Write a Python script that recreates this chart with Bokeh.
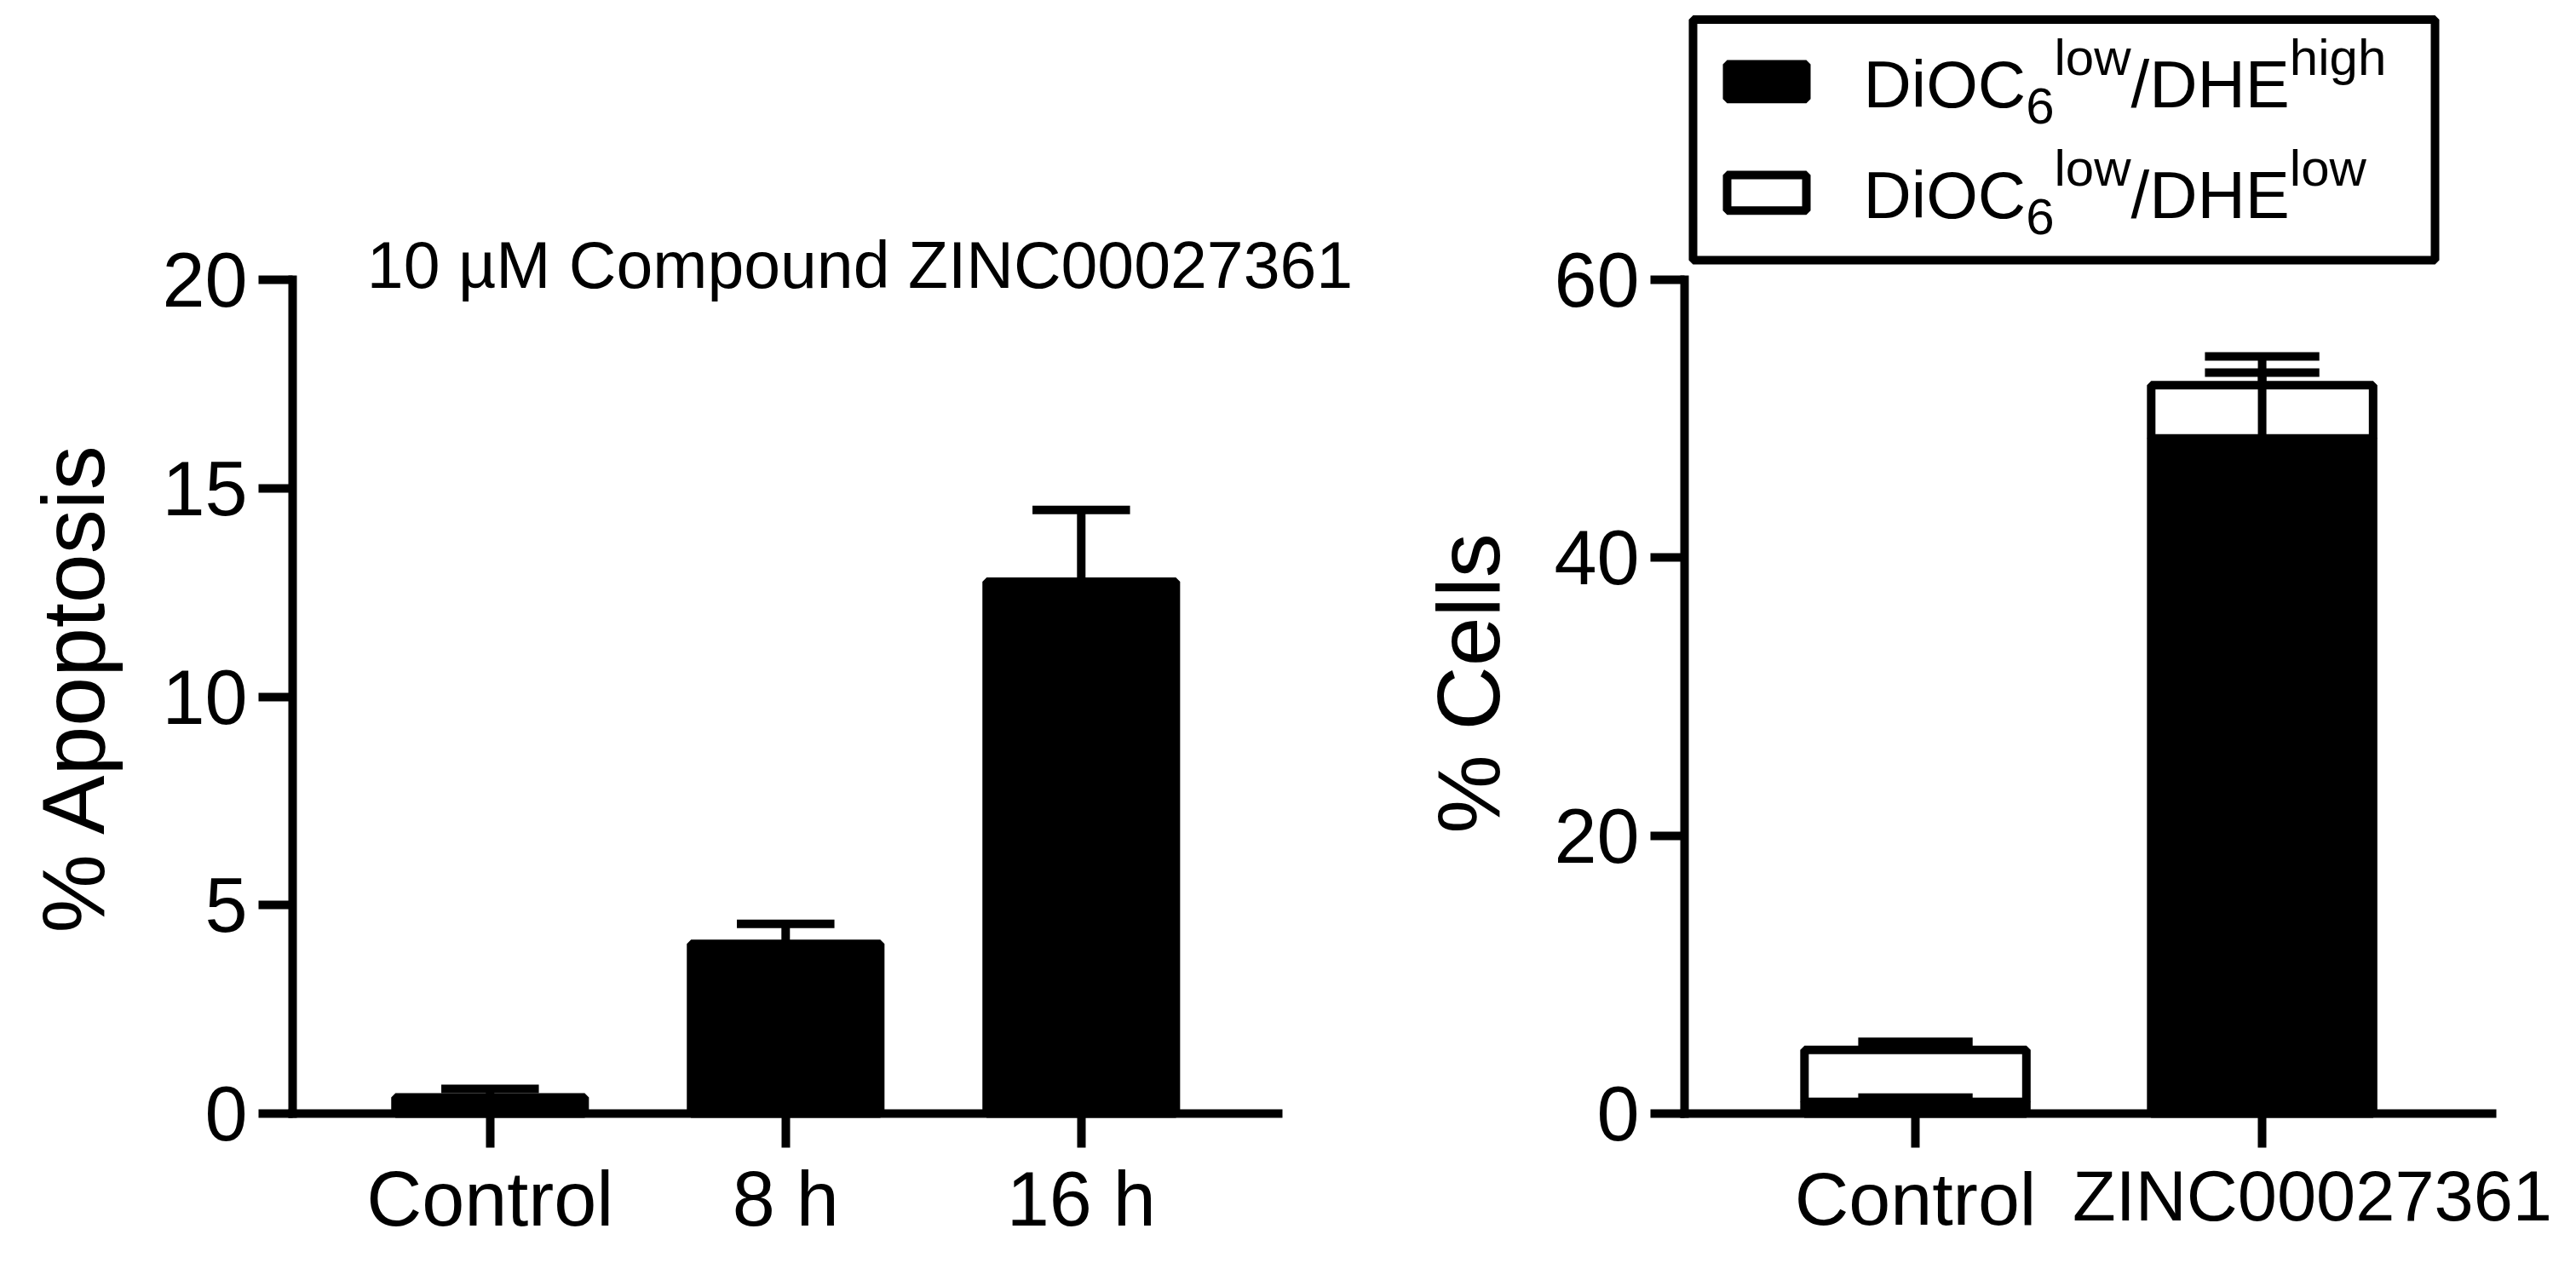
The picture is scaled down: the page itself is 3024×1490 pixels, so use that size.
from bokeh.plotting import figure
from bokeh.layouts import row
from bokeh.models import (Range1d, FixedTicker, Label, BoxAnnotation, ColumnDataSource,
                          LinearAxis)
from bokeh.embed import file_html
from bokeh.resources import INLINE

# ---------------- data ----------------
time_categories = ["Control", "8 h", "16 h"]
apoptosis_mean = [0.39, 4.07, 12.76]
apoptosis_sd = [0.20, 0.48, 1.72]
apoptosis_ticks = [0, 5, 10, 15, 20]

cell_categories = ["Control", "ZINC00027361"]
dhe_high_mean = [0.84, 48.58]   # DiOC6 low / DHE high (black)
dhe_high_sd = [0.31, 4.74]
dhe_low_mean = [3.74, 3.84]     # DiOC6 low / DHE low (white, stacked)
dhe_low_sd = [0.59, 2.06]
cells_ticks = [0, 20, 40, 60]

title_text = "10 \u00b5M Compound ZINC00027361"
y1_title = "% Apoptosis"
y2_title = "% Cells"

# ---------------- styling ----------------
FONT = "Liberation Sans"
LW = 10
BAR_W = 0.64
CAP_HALF = 0.165
OFF = 0                      # page offset of the canvas
H = 1482
SPLIT = 1620                 # reference x where the two canvases meet
W1 = SPLIT - OFF
W2 = 3016 - SPLIT
BASE_FIX = 0.35              # em shift so that labels sit on their intended baseline
ZINC_LABEL_SHIFT = 0.145     # the second right-hand category label sits right of its tick

Y0_PX = 1307                 # reference y of value 0 (both charts)
# left chart geometry (reference pixels)
L_AXIS_X, L_AXIS_END, L_TOP_PX = 343, 1500, 328
L_XSTART = -0.668
L_PX_PER_X = 347.0
L_PX_PER_Y = (Y0_PX - L_TOP_PX) / apoptosis_ticks[-1]
# right chart geometry
R_AXIS_X, R_AXIS_END, R_TOP_PX = 1977, 2925, 328
R_XSTART = -0.666
R_PX_PER_X = 407.0
R_PX_PER_Y = (Y0_PX - R_TOP_PX) / cells_ticks[-1]


def lx(px):
    return L_XSTART + (px - L_AXIS_X) / L_PX_PER_X


def ly(py):
    return (Y0_PX - py) / L_PX_PER_Y


def rx(px):
    return R_XSTART + (px - R_AXIS_X) / R_PX_PER_X


def ry(py):
    return (Y0_PX - py) / R_PX_PER_Y


def make_fig(w, xr, yr):
    p = figure(width=w, height=H, x_range=Range1d(*xr), y_range=Range1d(*yr),
               output_backend="svg", toolbar_location=None,
               min_border=0, min_border_left=0, min_border_right=0,
               min_border_top=0, min_border_bottom=0)
    p.xgrid.visible = False
    p.ygrid.visible = False
    p.outline_line_color = None
    p.background_fill_color = "white"
    p.border_fill_color = "white"
    return p


def style_axes(p, yaxis_x, xbounds, ticks, labels, xsize):
    for ax in (p.xaxis[0], p.yaxis[0]):
        ax.axis_line_width = LW
        ax.axis_line_color = "black"
        ax.axis_line_cap = "square"
        ax.major_tick_line_width = LW
        ax.major_tick_line_color = "black"
        ax.major_tick_out = 40
        ax.major_tick_in = 0
        ax.minor_tick_line_color = None
        ax.major_label_text_font = FONT
        ax.major_label_text_color = "black"
        ax.axis_label = None
    xa = p.xaxis[0]
    xa.fixed_location = 0
    xa.bounds = xbounds
    xa.ticker = FixedTicker(ticks=list(range(len(labels))))
    xa.major_label_overrides = {i: lab for i, lab in enumerate(labels)}
    xa.major_label_text_font_size = xsize
    xa.major_label_standoff = 10
    ya = p.yaxis[0]
    ya.fixed_location = yaxis_x
    ya.ticker = FixedTicker(ticks=ticks)
    ya.bounds = (ticks[0], ticks[-1])
    ya.major_label_text_font_size = "90px"
    ya.major_label_standoff = 13


def text_label(xf, yf, xpx, ypx, txt, size, align="left", vertical=False):
    """Place text whose alphabetic baseline passes through reference pixel (xpx, ypx)."""
    fix = BASE_FIX * size
    if vertical:
        x, y, angle = xf(xpx - fix), yf(ypx), 90
    else:
        x, y, angle = xf(xpx), yf(ypx - fix), 0
    return Label(x=x, y=y, text=txt, angle=angle, angle_units="deg", text_font=FONT,
                 text_font_size=f"{size}px", text_align=align,
                 text_baseline="alphabetic", text_color="black")


# ---------------- left chart ----------------
xs1 = list(range(len(time_categories)))
src1 = ColumnDataSource(dict(
    x=xs1,
    mean=apoptosis_mean,
    upper=[m + s for m, s in zip(apoptosis_mean, apoptosis_sd)],
    cl=[x - CAP_HALF for x in xs1],
    cr=[x + CAP_HALF for x in xs1],
))

p1 = make_fig(W1, (lx(OFF), lx(SPLIT)), (ly(H + OFF), ly(OFF)))
p1.vbar(x="x", top="mean", bottom=0, width=BAR_W, source=src1,
        fill_color="black", line_color="black", line_width=LW)
p1.segment(x0="x", y0="mean", x1="x", y1="upper", source=src1,
           line_color="black", line_width=LW)
p1.segment(x0="cl", y0="upper", x1="cr", y1="upper", source=src1,
           line_color="black", line_width=LW)
style_axes(p1, lx(L_AXIS_X), (lx(L_AXIS_X), lx(L_AXIS_END)), apoptosis_ticks,
           time_categories, "90px")

p1.add_layout(text_label(lx, ly, 1009, 337, title_text, 77, align="center"))
p1.add_layout(text_label(lx, ly, 122, 806, y1_title, 104, align="center", vertical=True))

# ---------------- right chart ----------------
xs2 = list(range(len(cell_categories)))
total = [a + b for a, b in zip(dhe_high_mean, dhe_low_mean)]
src2 = ColumnDataSource(dict(
    x=xs2,
    high=dhe_high_mean,
    total=total,
    high_up=[m + s for m, s in zip(dhe_high_mean, dhe_high_sd)],
    total_up=[t + s for t, s in zip(total, dhe_low_sd)],
    cl=[x - CAP_HALF for x in xs2],
    cr=[x + CAP_HALF for x in xs2],
))

p2 = make_fig(W2, (rx(SPLIT), rx(3016)), (ry(H + OFF), ry(OFF)))
p2.vbar(x="x", bottom=0, top="high", width=BAR_W, source=src2,
        fill_color="black", line_color="black", line_width=LW)
p2.vbar(x="x", bottom="high", top="total", width=BAR_W, source=src2,
        fill_color="white", line_color="black", line_width=LW)
for lo, hi in (("high", "high_up"), ("total", "total_up")):
    p2.segment(x0="x", y0=lo, x1="x", y1=hi, source=src2,
               line_color="black", line_width=LW)
    p2.segment(x0="cl", y0=hi, x1="cr", y1=hi, source=src2,
               line_color="black", line_width=LW)
style_axes(p2, rx(R_AXIS_X), (rx(R_AXIS_X), rx(R_AXIS_END)), cells_ticks,
           cell_categories, "88px")
# main axis keeps the first label; the second label is drawn by a tick-less axis
p2.xaxis[0].major_label_overrides = {0: cell_categories[0], 1: ""}
zinc_pos = 1 + ZINC_LABEL_SHIFT
zinc_axis = LinearAxis(fixed_location=0, ticker=FixedTicker(ticks=[zinc_pos]),
                       major_label_overrides={zinc_pos: cell_categories[1]},
                       axis_line_color=None, major_tick_line_color=None,
                       minor_tick_line_color=None, major_tick_out=40, major_tick_in=0,
                       major_label_standoff=10, major_label_text_font=FONT,
                       major_label_text_font_size="83px", major_label_text_color="black",
                       axis_label=None)
p2.add_layout(zinc_axis, "below")

p2.add_layout(text_label(rx, ry, 1760, 802, y2_title, 104, align="center", vertical=True))

# legend: frame, swatches, labels with sub/superscripts
p2.add_layout(BoxAnnotation(left=rx(1987), right=rx(2858), top=ry(22.5), bottom=ry(305),
                            fill_color=None, fill_alpha=0.0, line_color="black",
                            line_alpha=1.0, line_width=LW))
p2.add_layout(BoxAnnotation(left=rx(2027), right=rx(2120), top=ry(75), bottom=ry(115.7),
                            fill_color="black", fill_alpha=1.0, line_color="black",
                            line_alpha=1.0, line_width=LW))
p2.add_layout(BoxAnnotation(left=rx(2027), right=rx(2120), top=ry(205), bottom=ry(246.7),
                            fill_color="white", fill_alpha=1.0, line_color="black",
                            line_alpha=1.0, line_width=LW))

ADV = {"D": .722, "i": .222, "O": .778, "C": .722, "6": .556, "l": .222, "o": .556,
       "w": .722, "/": .278, "H": .722, "E": .667, "h": .556, "g": .556}


def adv(s, size):
    return sum(ADV[c] for c in s) * size


MAIN, SCRIPT = 78, 60
for base, sup2 in ((125.5, "high"), (256, "low")):
    pieces = [("DiOC", MAIN, 0), ("6", SCRIPT, 19), ("low", SCRIPT, -38),
              ("/DHE", MAIN, 0), (sup2, SCRIPT, -38)]
    xcur = 2187.0
    for txt, size, dy in pieces:
        p2.add_layout(text_label(rx, ry, xcur, base + dy, txt, size))
        xcur += adv(txt, size)

layout = row(p1, p2)
open("out.html", "w").write(file_html(layout, INLINE, "Apoptosis and ROS"))
